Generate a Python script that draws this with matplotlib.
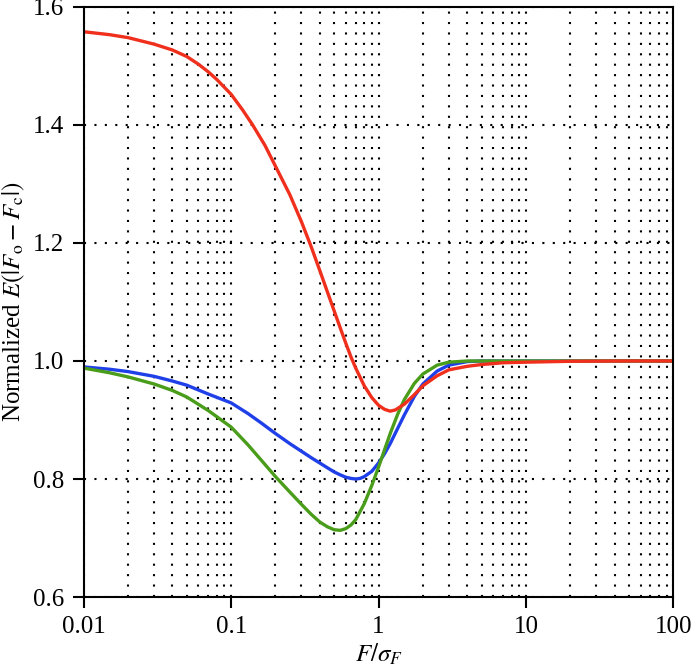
import numpy as np
import matplotlib
matplotlib.use("Agg")
import matplotlib.pyplot as plt
from matplotlib.ticker import LogLocator, NullFormatter

plt.rcParams['font.family'] = 'serif'
plt.rcParams['font.serif'] = ['Liberation Serif', 'Times New Roman', 'DejaVu Serif']
plt.rcParams['mathtext.fontset'] = 'stix'
plt.rcParams['font.size'] = 18

# values
x_red = [0.01, 0.015, 0.02, 0.03, 0.04, 0.05, 0.06, 0.07, 0.08, 0.1, 0.12, 0.14, 0.17,
         0.2, 0.25, 0.3, 0.35, 0.4, 0.45, 0.5, 0.55, 0.6, 0.65, 0.7, 0.8, 0.9, 1.0,
         1.1, 1.2, 1.3, 1.5, 1.75, 2, 2.5, 3, 4, 5, 7, 10, 20, 50, 100]
y_red = [1.558, 1.553, 1.548, 1.537, 1.527, 1.516, 1.503, 1.490, 1.477, 1.452, 1.425,
         1.400, 1.365, 1.330, 1.282, 1.236, 1.193, 1.153, 1.117, 1.085, 1.056, 1.030,
         1.007, 0.988, 0.958, 0.938, 0.925, 0.918, 0.915, 0.917, 0.927, 0.943, 0.958,
         0.975, 0.985, 0.991, 0.994, 0.997, 0.998, 0.9995, 1.0, 1.0]

x_blue = [0.01, 0.015, 0.02, 0.03, 0.04, 0.05, 0.07, 0.1, 0.13, 0.16, 0.2, 0.25, 0.3,
          0.35, 0.4, 0.45, 0.5, 0.55, 0.6, 0.65, 0.7, 0.75, 0.8, 0.9, 1.0, 1.1, 1.2,
          1.35, 1.5, 1.75, 2, 2.5, 3, 4, 5, 10, 100]
y_blue = [0.990, 0.986, 0.982, 0.974, 0.966, 0.959, 0.944, 0.929, 0.911, 0.895, 0.877,
          0.860, 0.847, 0.836, 0.827, 0.819, 0.812, 0.807, 0.803, 0.801, 0.800, 0.801,
          0.804, 0.813, 0.827, 0.843, 0.860, 0.886, 0.909, 0.940, 0.961, 0.983, 0.993,
          0.999, 1.0, 1.0, 1.0]

x_green = [0.01, 0.015, 0.02, 0.03, 0.04, 0.05, 0.07, 0.1, 0.13, 0.16, 0.2, 0.25, 0.3,
           0.35, 0.4, 0.45, 0.5, 0.55, 0.6, 0.65, 0.7, 0.8, 0.9, 1.0, 1.1, 1.2, 1.35,
           1.5, 1.75, 2, 2.5, 3, 4, 10, 100]
y_green = [0.988, 0.980, 0.973, 0.961, 0.950, 0.939, 0.916, 0.888, 0.858, 0.832, 0.804,
           0.778, 0.757, 0.740, 0.727, 0.719, 0.714, 0.713, 0.716, 0.722, 0.731, 0.758,
           0.789, 0.820, 0.850, 0.877, 0.910, 0.935, 0.962, 0.978, 0.993, 0.998, 1.0,
           1.0, 1.0]

xticks = [0.01, 0.1, 1, 10, 100]
xticklabels = ['0.01', '0.1', '1', '10', '100']
yticks = [0.6, 0.8, 1.0, 1.2, 1.4, 1.6]

fig = plt.figure(figsize=(6.92, 6.69), dpi=100)
ax = fig.add_axes([0.121, 0.1076, 0.852, 0.882])

line_kw = dict(lw=2.4, solid_capstyle='round', solid_joinstyle='round')
ax.plot(x_blue, y_blue, color='#1f3fe8', **line_kw)
ax.plot(x_green, y_green, color='#4a9d1a', **line_kw)
ax.plot(x_red, y_red, color='#f0301c', **line_kw)

ax.set_xscale('log')
ax.set_xlim(0.01, 100)
ax.set_ylim(0.6, 1.6)
ax.set_xticks(xticks)
ax.set_xticklabels(xticklabels)
ax.xaxis.set_minor_locator(LogLocator(base=10, subs=np.arange(2, 10)))
ax.xaxis.set_minor_formatter(NullFormatter())
ax.set_yticks(yticks)
ax.set_yticklabels(['%.1f' % v for v in yticks])

ax.tick_params(axis='both', which='major', direction='out', length=8, width=1.5,
               top=False, right=False, pad=6)
ax.tick_params(axis='x', which='minor', length=0)

grid_kw = dict(color='black', lw=1.5, linestyle=(0, (1, 4)))
ax.grid(True, which='major', axis='both', **grid_kw)
ax.grid(True, which='minor', axis='x', **grid_kw)
ax.set_axisbelow(True)

for s in ax.spines.values():
    s.set_linewidth(1.5)

ax.set_xlabel(r'$F/\sigma_F$', labelpad=2)
ax.set_ylabel(r'Normalized $E(|F_\mathrm{o} - F_\mathrm{c}|)$', labelpad=4)

fig.savefig('out.png', dpi=100)
